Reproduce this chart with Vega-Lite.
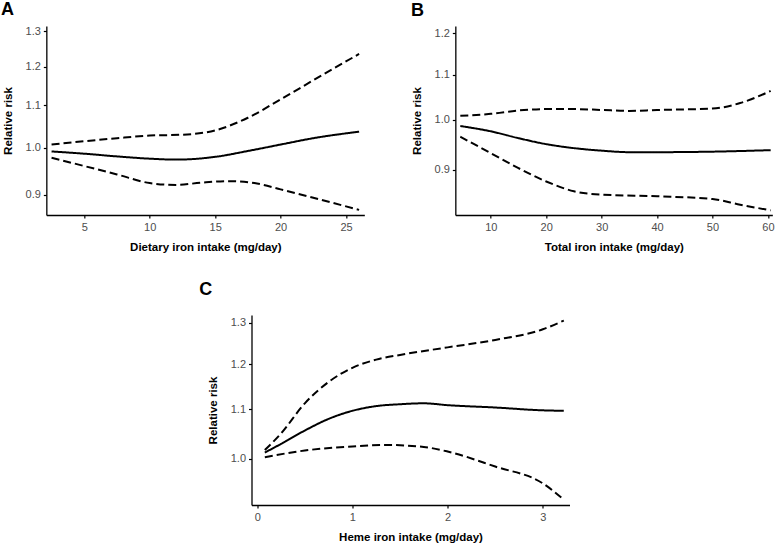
{
  "$schema": "https://vega.github.io/schema/vega-lite/v6.json",
  "padding": {"left": 1, "top": 1, "right": 2, "bottom": 2},
  "background": "white",
  "config": {
    "view": {"stroke": null},
    "font": "Liberation Sans",
    "axis": {
      "grid": false,
      "domainColor": "black",
      "domainWidth": 1.3,
      "tickColor": "black",
      "tickWidth": 1.2,
      "tickSize": 3,
      "labelColor": "#4d4d4d",
      "labelFont": "Liberation Sans",
      "labelFontSize": 11,
      "labelPadding": 3,
      "titleFont": "Liberation Sans",
      "titleFontSize": 11.5,
      "titleFontWeight": "bold",
      "titleColor": "black"
    },
    "title": {"font": "Liberation Sans", "fontSize": 18, "fontWeight": "bold", "anchor": "start", "frame": "bounds", "color": "black"}
  },
  "datasets": {
    "rr": [
      {"panel": "A", "series": "est", "x": 2.5, "rr": 0.992},
      {"panel": "A", "series": "est", "x": 5, "rr": 0.987},
      {"panel": "A", "series": "est", "x": 7.5, "rr": 0.981},
      {"panel": "A", "series": "est", "x": 10, "rr": 0.976},
      {"panel": "A", "series": "est", "x": 12, "rr": 0.974},
      {"panel": "A", "series": "est", "x": 15, "rr": 0.980},
      {"panel": "A", "series": "est", "x": 17.5, "rr": 0.993},
      {"panel": "A", "series": "est", "x": 20, "rr": 1.0075},
      {"panel": "A", "series": "est", "x": 22.5, "rr": 1.022},
      {"panel": "A", "series": "est", "x": 26, "rr": 1.037},
      {"panel": "A", "series": "upper", "x": 2.5, "rr": 1.0075},
      {"panel": "A", "series": "upper", "x": 5, "rr": 1.015},
      {"panel": "A", "series": "upper", "x": 7.5, "rr": 1.022},
      {"panel": "A", "series": "upper", "x": 10, "rr": 1.028},
      {"panel": "A", "series": "upper", "x": 12.5, "rr": 1.030},
      {"panel": "A", "series": "upper", "x": 15, "rr": 1.040},
      {"panel": "A", "series": "upper", "x": 17.5, "rr": 1.070},
      {"panel": "A", "series": "upper", "x": 20, "rr": 1.115},
      {"panel": "A", "series": "upper", "x": 22.5, "rr": 1.164},
      {"panel": "A", "series": "upper", "x": 26, "rr": 1.235},
      {"panel": "A", "series": "lower", "x": 2.5, "rr": 0.978},
      {"panel": "A", "series": "lower", "x": 5, "rr": 0.960},
      {"panel": "A", "series": "lower", "x": 7.5, "rr": 0.942},
      {"panel": "A", "series": "lower", "x": 10, "rr": 0.924},
      {"panel": "A", "series": "lower", "x": 12, "rr": 0.920},
      {"panel": "A", "series": "lower", "x": 14, "rr": 0.925},
      {"panel": "A", "series": "lower", "x": 16, "rr": 0.928},
      {"panel": "A", "series": "lower", "x": 18, "rr": 0.924},
      {"panel": "A", "series": "lower", "x": 20, "rr": 0.911},
      {"panel": "A", "series": "lower", "x": 22.5, "rr": 0.894},
      {"panel": "A", "series": "lower", "x": 26, "rr": 0.870},
      {"panel": "B", "series": "est", "x": 4.5, "rr": 0.987},
      {"panel": "B", "series": "est", "x": 10, "rr": 0.976},
      {"panel": "B", "series": "est", "x": 15, "rr": 0.962},
      {"panel": "B", "series": "est", "x": 20, "rr": 0.950},
      {"panel": "B", "series": "est", "x": 25, "rr": 0.942},
      {"panel": "B", "series": "est", "x": 30, "rr": 0.937},
      {"panel": "B", "series": "est", "x": 35, "rr": 0.934},
      {"panel": "B", "series": "est", "x": 40, "rr": 0.934},
      {"panel": "B", "series": "est", "x": 50, "rr": 0.935},
      {"panel": "B", "series": "est", "x": 60.5, "rr": 0.938},
      {"panel": "B", "series": "upper", "x": 4.5, "rr": 1.0085},
      {"panel": "B", "series": "upper", "x": 10, "rr": 1.0127},
      {"panel": "B", "series": "upper", "x": 15, "rr": 1.020},
      {"panel": "B", "series": "upper", "x": 20, "rr": 1.023},
      {"panel": "B", "series": "upper", "x": 25, "rr": 1.023},
      {"panel": "B", "series": "upper", "x": 30, "rr": 1.021},
      {"panel": "B", "series": "upper", "x": 35, "rr": 1.019},
      {"panel": "B", "series": "upper", "x": 40, "rr": 1.021},
      {"panel": "B", "series": "upper", "x": 50, "rr": 1.024},
      {"panel": "B", "series": "upper", "x": 55, "rr": 1.036},
      {"panel": "B", "series": "upper", "x": 60.5, "rr": 1.063},
      {"panel": "B", "series": "lower", "x": 4.5, "rr": 0.965},
      {"panel": "B", "series": "lower", "x": 10, "rr": 0.932},
      {"panel": "B", "series": "lower", "x": 15, "rr": 0.903},
      {"panel": "B", "series": "lower", "x": 20, "rr": 0.878},
      {"panel": "B", "series": "lower", "x": 25, "rr": 0.860},
      {"panel": "B", "series": "lower", "x": 30, "rr": 0.854},
      {"panel": "B", "series": "lower", "x": 40, "rr": 0.851},
      {"panel": "B", "series": "lower", "x": 50, "rr": 0.846},
      {"panel": "B", "series": "lower", "x": 55, "rr": 0.836},
      {"panel": "B", "series": "lower", "x": 60.5, "rr": 0.826},
      {"panel": "C", "series": "est", "x": 0.08, "rr": 1.012},
      {"panel": "C", "series": "est", "x": 0.25, "rr": 1.029},
      {"panel": "C", "series": "est", "x": 0.5, "rr": 1.056},
      {"panel": "C", "series": "est", "x": 0.75, "rr": 1.080},
      {"panel": "C", "series": "est", "x": 1.0, "rr": 1.097},
      {"panel": "C", "series": "est", "x": 1.25, "rr": 1.107},
      {"panel": "C", "series": "est", "x": 1.5, "rr": 1.111},
      {"panel": "C", "series": "est", "x": 1.75, "rr": 1.113},
      {"panel": "C", "series": "est", "x": 2.0, "rr": 1.109},
      {"panel": "C", "series": "est", "x": 2.5, "rr": 1.104},
      {"panel": "C", "series": "est", "x": 3.0, "rr": 1.098},
      {"panel": "C", "series": "est", "x": 3.22, "rr": 1.097},
      {"panel": "C", "series": "upper", "x": 0.08, "rr": 1.017},
      {"panel": "C", "series": "upper", "x": 0.25, "rr": 1.050},
      {"panel": "C", "series": "upper", "x": 0.5, "rr": 1.113},
      {"panel": "C", "series": "upper", "x": 0.75, "rr": 1.160},
      {"panel": "C", "series": "upper", "x": 1.0, "rr": 1.192},
      {"panel": "C", "series": "upper", "x": 1.25, "rr": 1.211},
      {"panel": "C", "series": "upper", "x": 1.5, "rr": 1.222},
      {"panel": "C", "series": "upper", "x": 2.0, "rr": 1.240},
      {"panel": "C", "series": "upper", "x": 2.5, "rr": 1.258},
      {"panel": "C", "series": "upper", "x": 3.0, "rr": 1.284},
      {"panel": "C", "series": "upper", "x": 3.22, "rr": 1.306},
      {"panel": "C", "series": "lower", "x": 0.08, "rr": 1.003},
      {"panel": "C", "series": "lower", "x": 0.5, "rr": 1.016},
      {"panel": "C", "series": "lower", "x": 1.0, "rr": 1.024},
      {"panel": "C", "series": "lower", "x": 1.35, "rr": 1.027},
      {"panel": "C", "series": "lower", "x": 1.75, "rr": 1.023},
      {"panel": "C", "series": "lower", "x": 2.0, "rr": 1.014},
      {"panel": "C", "series": "lower", "x": 2.5, "rr": 0.985},
      {"panel": "C", "series": "lower", "x": 3.0, "rr": 0.9535},
      {"panel": "C", "series": "lower", "x": 3.22, "rr": 0.924}
    ]
  },
  "vconcat": [
    {
      "hconcat": [
        {
          "title": {"text": "A", "offset": 6, "dx": -1},
          "width": 318,
          "height": 189,
          "data": {"name": "rr"},
          "transform": [{"filter": "datum.panel === 'A'"}],
          "mark": {"type": "line", "color": "black", "strokeWidth": 2, "interpolate": "monotone"},
          "encoding": {
            "x": {"field": "x", "type": "quantitative", "title": "Dietary iron intake (mg/day)",
                  "scale": {"domain": [2.1, 26.4], "nice": false, "zero": false},
                  "axis": {"values": [5, 10, 15, 20, 25], "titlePadding": 9}},
            "y": {"field": "rr", "type": "quantitative", "title": "Relative risk",
                  "scale": {"type": "log", "domain": [0.86, 1.315], "nice": false},
                  "axis": {"values": [0.9, 1.0, 1.1, 1.2, 1.3], "format": ".1f", "titlePadding": 12}},
            "detail": {"field": "series"},
            "strokeDash": {"field": "series", "type": "nominal", "legend": null,
                           "scale": {"domain": ["est", "lower", "upper"], "range": [[1, 0], [8, 4], [8, 4]]}}
          }
        },
        {
          "title": {"text": "B", "offset": 6},
          "width": 317,
          "height": 189,
          "data": {"name": "rr"},
          "transform": [{"filter": "datum.panel === 'B'"}],
          "mark": {"type": "line", "color": "black", "strokeWidth": 2, "interpolate": "monotone"},
          "encoding": {
            "x": {"field": "x", "type": "quantitative", "title": "Total iron intake (mg/day)",
                  "scale": {"domain": [3.6, 60.8], "nice": false, "zero": false},
                  "axis": {"values": [10, 20, 30, 40, 50, 60], "titlePadding": 9}},
            "y": {"field": "rr", "type": "quantitative", "title": "Relative risk",
                  "scale": {"type": "log", "domain": [0.818, 1.219], "nice": false},
                  "axis": {"values": [0.9, 1.0, 1.1, 1.2], "format": ".1f", "titlePadding": 12}},
            "detail": {"field": "series"},
            "strokeDash": {"field": "series", "type": "nominal", "legend": null,
                           "scale": {"domain": ["est", "lower", "upper"], "range": [[1, 0], [8, 4], [8, 4]]}}
          }
        }
      ],
      "spacing": 46
    },
    {
      "title": {"text": "C", "offset": 16, "dx": -8},
      "width": 318,
      "height": 190,
      "data": {"name": "rr"},
      "transform": [{"filter": "datum.panel === 'C'"}],
      "mark": {"type": "line", "color": "black", "strokeWidth": 2, "interpolate": "monotone"},
      "encoding": {
        "x": {"field": "x", "type": "quantitative", "title": "Heme iron intake (mg/day)",
              "scale": {"domain": [-0.06, 3.28], "nice": false, "zero": false},
              "axis": {"values": [0, 1, 2, 3], "titlePadding": 9}},
        "y": {"field": "rr", "type": "quantitative", "title": "Relative risk",
              "scale": {"type": "log", "domain": [0.9145, 1.32], "nice": false},
              "axis": {"values": [1.0, 1.1, 1.2, 1.3], "format": ".1f", "titlePadding": 12}},
        "detail": {"field": "series"},
        "strokeDash": {"field": "series", "type": "nominal", "legend": null,
                       "scale": {"domain": ["est", "lower", "upper"], "range": [[1, 0], [8, 4], [8, 4]]}}
      }
    }
  ],
  "spacing": 28,
  "center": true,
  "resolve": {"scale": {"strokeDash": "independent"}}
}
